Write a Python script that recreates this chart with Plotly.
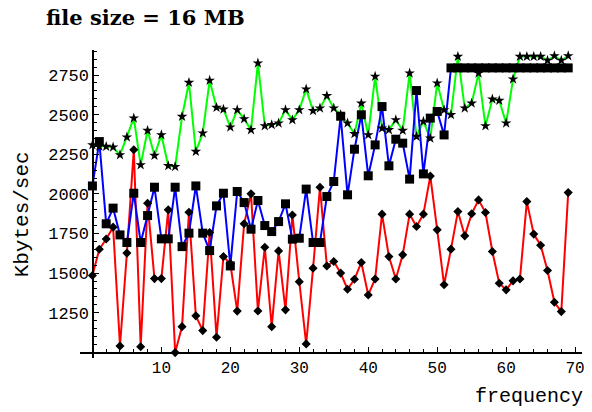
import plotly.graph_objects as go

# ---- data ----
freq = list(range(70))

green_vals = [2309, 2300, 2299, 2295, 2246, 2358, 2478, 2183, 2400, 2242,
              2372, 2177, 2172, 2488, 2703, 2267, 2383, 2716, 2545, 2534,
              2421, 2530, 2473, 2404, 2825, 2429, 2436, 2446, 2530, 2467,
              2530, 2661, 2524, 2541, 2619, 2541, 2500, 2446, 2379, 2572,
              2372, 2741, 2414, 2404, 2467, 2400, 2762, 2362, 2457, 2351,
              2699, 2530, 2499, 2867, 2541, 2572, 2762, 2429, 2598, 2589,
              2446, 2724, 2867, 2867, 2867, 2867, 2842, 2871, 2842, 2871]

blue_vals = [2050, 2330, 1811, 1910, 1741, 1693, 2004, 1693, 1863, 2042,
             1716, 1716, 2042, 1667, 1752, 2050, 1752, 1642, 1924, 2004,
             1545, 2015, 1945, 1777, 1958, 1800, 1762, 1825, 1937, 1714,
             1720, 2030, 1693, 1693, 1983, 2078, 2490, 1994, 2282, 2499,
             2114, 2309, 2551, 2177, 2345, 2320, 2093, 2652, 2126, 2478,
             2520, 2372, 2795, 2795, 2795, 2795, 2795, 2795, 2795, 2795,
             2795, 2795, 2795, 2795, 2795, 2795, 2795, 2795, 2795, 2795]

red_vals = [1485, 1650, 1715, 1790, 1040, 1626, 2278, 1035, 1941, 1465,
            1465, 1899, 998, 1162, 1884, 1230, 1137, 1756, 1095, 1604,
            1560, 1260, 1811, 2000, 1261, 1663, 1162, 1640, 1268, 1867,
            1446, 1053, 1531, 2042, 1545, 1573, 1500, 1398, 1461, 1567,
            1362, 1463, 1872, 1604, 1463, 1615, 1872, 1794, 1872, 2112,
            1773, 1426, 1651, 1888, 1735, 1874, 1962, 1882, 1636, 1436,
            1394, 1451, 1463, 1951, 1746, 1676, 1516, 1316, 1257, 2008]

x_ticks = [10, 20, 30, 40, 50, 60, 70]
y_ticks = [1250, 1500, 1750, 2000, 2250, 2500, 2750]

title_text = "file size = 16 MB"
x_title = "frequency"
y_title = "Kbytes/sec"

# ---- layout geometry ----
W, H = 592, 412
ML, MR, MT, MB = 80, 7, 50, 54
XR = [-1.8, 71.0]
YR = [964, 2908]
pw, ph = W - ML - MR, H - MT - MB

def px_x(px):
    return (px - ML) / pw

def px_y(py):
    return (H - MB - py) / ph

mono = "Liberation Mono, Courier New, monospace"

fig = go.Figure()

# lines first
for vals, col in ((green_vals, "#00ff00"), (red_vals, "#ff0000"), (blue_vals, "#0000ff")):
    fig.add_trace(go.Scatter(x=freq, y=vals, mode="lines",
                             line=dict(color=col, width=2),
                             cliponaxis=False, showlegend=False, hoverinfo="skip"))

# markers on top
fig.add_trace(go.Scatter(x=freq, y=green_vals, mode="markers",
                         marker=dict(symbol="star", size=8, color="black"),
                         cliponaxis=False, showlegend=False))
fig.add_trace(go.Scatter(x=freq, y=red_vals, mode="markers",
                         marker=dict(symbol="diamond", size=7, color="black"),
                         cliponaxis=False, showlegend=False))
fig.add_trace(go.Scatter(x=freq, y=blue_vals, mode="markers",
                         marker=dict(symbol="square", size=9, color="black"),
                         cliponaxis=False, showlegend=False))

xpos = (1000 - YR[0]) / (YR[1] - YR[0])
ypos = (0 - XR[0]) / (XR[1] - XR[0])

fig.update_layout(
    width=W, height=H,
    margin=dict(l=ML, r=MR, t=MT, b=MB),
    paper_bgcolor="white", plot_bgcolor="white",
    font=dict(family=mono, size=16, color="black"),
    xaxis=dict(range=XR, anchor="free", position=xpos,
               showline=True, linecolor="black", linewidth=1.5,
               showgrid=False, zeroline=False,
               tickmode="array", tickvals=x_ticks, ticktext=[str(v) for v in x_ticks],
               ticks="inside", ticklen=5, tickwidth=1, tickcolor="black",
               minor=dict(dtick=2, tick0=0, ticks="inside", ticklen=3,
                          tickcolor="black", showgrid=False),
               tickfont=dict(family=mono, size=16)),
    yaxis=dict(range=YR, anchor="free", position=ypos,
               showline=True, linecolor="black", linewidth=1.5,
               showgrid=False, zeroline=False,
               tickmode="array", tickvals=y_ticks, ticktext=[str(v) for v in y_ticks],
               ticks="inside", ticklen=5, tickwidth=1, tickcolor="black",
               minor=dict(dtick=50, tick0=0, ticks="inside", ticklen=3,
                          tickcolor="black", showgrid=False),
               tickfont=dict(family=mono, size=17)),
    annotations=[
        dict(text="<b>" + title_text + "</b>", xref="paper", yref="paper",
             x=px_x(146), y=px_y(18), xanchor="center", yanchor="middle",
             showarrow=False, font=dict(family="DejaVu Serif", size=21)),
        dict(text=y_title, xref="paper", yref="paper",
             x=px_x(22), y=px_y(214), xanchor="center", yanchor="middle",
             textangle=-90, showarrow=False, font=dict(family=mono, size=21)),
        dict(text=x_title, xref="paper", yref="paper",
             x=px_x(588), y=px_y(396), xanchor="right", yanchor="middle",
             showarrow=False, font=dict(family=mono, size=20)),
    ],
)

fig.write_html(
    "out.html",
    config={"displayModeBar": False, "staticPlot": True},
    post_script="document.body.style.margin='0px';document.body.style.overflow='hidden';",
)
